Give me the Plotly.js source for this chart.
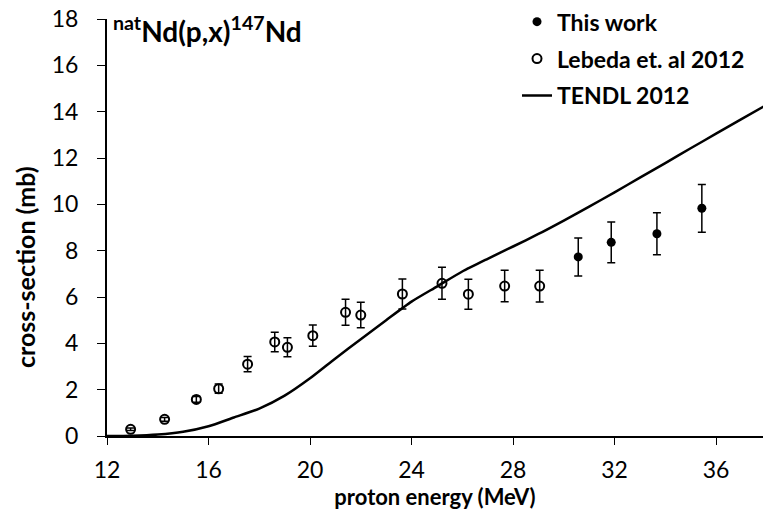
<!DOCTYPE html>
<html><head><meta charset="utf-8">
<script src="https://cdn.plot.ly/plotly-3.0.1.min.js"></script>
<style>html,body{margin:0;padding:0;background:#fff}#plot{width:763px;height:513px}</style>
</head><body><div id="plot"></div>
<script>
// This work
const thisE = [30.57, 31.87, 33.67, 35.44];
const thisXS = [7.73, 8.36, 8.73, 9.83];
const thisErr = [0.82, 0.88, 0.91, 1.03];
// Lebeda et al. 2012
const lebE = [12.93, 14.27, 15.52, 16.40, 17.54, 18.61, 19.11, 20.11, 21.40, 22.00, 23.64, 25.20, 26.24, 27.67, 29.05];
const lebXS = [0.29, 0.72, 1.58, 2.04, 3.10, 4.06, 3.83, 4.33, 5.34, 5.22, 6.13, 6.59, 6.12, 6.47, 6.47];
const lebErr = [0.05, 0.08, 0.12, 0.2, 0.33, 0.42, 0.41, 0.46, 0.56, 0.55, 0.65, 0.69, 0.65, 0.68, 0.69];
// TENDL 2012
const tendlE = [12, 13, 14, 15, 16, 17, 18, 19, 20, 21, 22, 23, 24, 25, 26, 27, 28, 29, 30, 31, 32, 33, 34, 35, 36, 37, 38];
const tendlXS = [0.0, 0.01, 0.06, 0.18, 0.42, 0.8, 1.18, 1.74, 2.49, 3.35, 4.18, 5.0, 5.8, 6.45, 7.1, 7.65, 8.18, 8.72, 9.3, 9.9, 10.52, 11.15, 11.78, 12.42, 13.05, 13.68, 14.3];

const xTicks = [12, 16, 20, 24, 28, 32, 36];
const yTicks = [0, 2, 4, 6, 8, 10, 12, 14, 16, 18];

const FONT = 'Lato, "Open Sans", sans-serif';
const traces = [
  {x: thisE, y: thisXS, name: '<b>This work</b>', legendgroup: 'a', type: 'scatter', mode: 'markers',
   marker: {symbol: 'circle', size: 9, color: '#000'},
   error_y: {type: 'data', array: thisErr, visible: true, color: '#000', thickness: 1.5, width: 4}},
  {x: lebE, y: lebXS, name: '<b>Lebeda et. al 2012</b>', legendgroup: 'b', type: 'scatter', mode: 'markers',
   marker: {symbol: 'circle-open', size: 9, color: '#000', line: {width: 2, color: '#000'}},
   error_y: {type: 'data', array: lebErr, visible: true, color: '#000', thickness: 1.5, width: 4}},
  {x: tendlE, y: tendlXS, name: '<b>TENDL 2012</b>', legendgroup: 'c', type: 'scatter', mode: 'lines',
   line: {color: '#000', width: 2.5, shape: 'spline', smoothing: 0.6}}
];

const layout = {
  width: 763, height: 513,
  margin: {l: 107, r: 0, t: 19, b: 77},
  paper_bgcolor: '#fff', plot_bgcolor: '#fff',
  font: {family: FONT, color: '#000', size: 23},
  showlegend: true,
  legend: {x: 0.625, xanchor: 'left', y: 1.045, yanchor: 'top', bgcolor: 'rgba(0,0,0,0)',
           font: {family: FONT, size: 23, color: '#000'}, itemwidth: 30, tracegroupgap: 4},
  xaxis: {range: [12, 37.85], tickvals: xTicks, ticktext: xTicks.map(String),
          showgrid: false, zeroline: false, showline: true, linecolor: '#000', linewidth: 2,
          ticks: 'outside', ticklen: 7, tickwidth: 1, tickcolor: '#000', ticklabelstandoff: 5,
          tickfont: {size: 23}, title: {text: '<b>proton energy (MeV)</b>', font: {size: 22}, standoff: 0}},
  yaxis: {range: [0, 18], tickvals: yTicks, ticktext: yTicks.map(String),
          showgrid: false, zeroline: false, showline: true, linecolor: '#000', linewidth: 2,
          ticks: 'outside', ticklen: 8, tickwidth: 1, tickcolor: '#000', ticklabelstandoff: 14,
          tickfont: {size: 23}},
  annotations: [
    {xref: 'paper', yref: 'paper', x: 0.006, y: 0.975, xanchor: 'left', yanchor: 'middle',
     showarrow: false, text: '<b><sup>nat</sup>Nd(p,x)<sup>147</sup>Nd</b>', font: {family: FONT, size: 28, color: '#000'}},
    {xref: 'paper', yref: 'paper', x: -0.125, y: 0.405, xanchor: 'center', yanchor: 'middle', textangle: -90,
     showarrow: false, text: '<b>cross-section (mb)</b>', font: {family: FONT, size: 25, color: '#000'}}
  ]
};
Plotly.newPlot('plot', traces, layout, {displayModeBar: false, staticPlot: true});
</script></body></html>
